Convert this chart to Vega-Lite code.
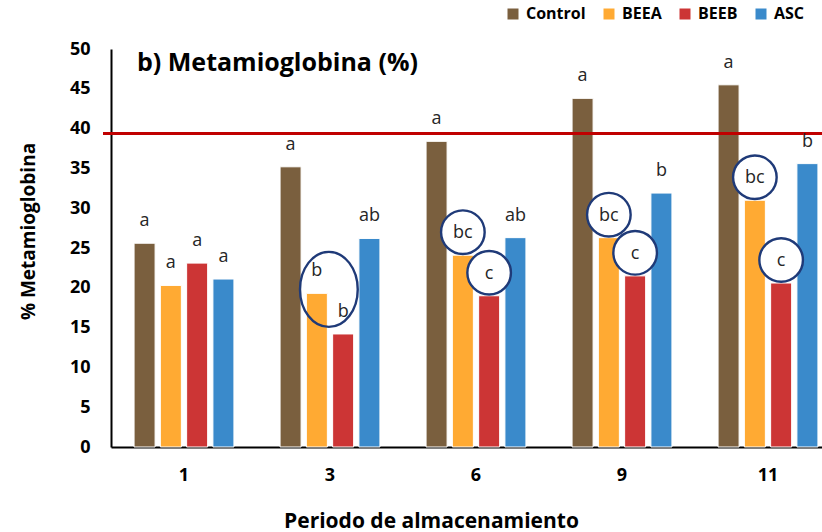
{
  "$schema": "https://vega.github.io/schema/vega-lite/v6.json",
  "autosize": {"type": "none"},
  "width": 711,
  "height": 398,
  "padding": {"left": 111, "top": 49, "right": 0, "bottom": 85},
  "background": "white",
  "title": {
    "text": "b) Metamioglobina (%)",
    "anchor": "start",
    "frame": "group",
    "fontSize": 25,
    "fontWeight": "bold",
    "color": "#000000",
    "baseline": "alphabetic",
    "offset": 0,
    "dx": 26,
    "dy": 90
  },
  "datasets": {
    "medias": [
      {"periodo": "1", "tratamiento": "Control", "valor": 25.6, "letra": "a", "circulo": false},
      {"periodo": "1", "tratamiento": "BEEA", "valor": 20.3, "letra": "a", "circulo": false},
      {"periodo": "1", "tratamiento": "BEEB", "valor": 23.1, "letra": "a", "circulo": false},
      {"periodo": "1", "tratamiento": "ASC", "valor": 21.1, "letra": "a", "circulo": false},
      {"periodo": "3", "tratamiento": "Control", "valor": 35.2, "letra": "a", "circulo": false},
      {"periodo": "3", "tratamiento": "BEEA", "valor": 19.3, "letra": "b", "circulo": false},
      {"periodo": "3", "tratamiento": "BEEB", "valor": 14.2, "letra": "b", "circulo": false},
      {"periodo": "3", "tratamiento": "ASC", "valor": 26.2, "letra": "ab", "circulo": false},
      {"periodo": "6", "tratamiento": "Control", "valor": 38.4, "letra": "a", "circulo": false},
      {"periodo": "6", "tratamiento": "BEEA", "valor": 24.1, "letra": "bc", "circulo": true},
      {"periodo": "6", "tratamiento": "BEEB", "valor": 19.0, "letra": "c", "circulo": true},
      {"periodo": "6", "tratamiento": "ASC", "valor": 26.3, "letra": "ab", "circulo": false},
      {"periodo": "9", "tratamiento": "Control", "valor": 43.8, "letra": "a", "circulo": false},
      {"periodo": "9", "tratamiento": "BEEA", "valor": 26.3, "letra": "bc", "circulo": true},
      {"periodo": "9", "tratamiento": "BEEB", "valor": 21.5, "letra": "c", "circulo": true},
      {"periodo": "9", "tratamiento": "ASC", "valor": 31.9, "letra": "b", "circulo": false},
      {"periodo": "11", "tratamiento": "Control", "valor": 45.5, "letra": "a", "circulo": false},
      {"periodo": "11", "tratamiento": "BEEA", "valor": 31.0, "letra": "bc", "circulo": true},
      {"periodo": "11", "tratamiento": "BEEB", "valor": 20.6, "letra": "c", "circulo": true},
      {"periodo": "11", "tratamiento": "ASC", "valor": 35.6, "letra": "b", "circulo": false}
    ],
    "elipse": [
      {"periodo": "3", "tratamiento": "BEEA", "valor": 19.8}
    ],
    "limite": [
      {"valor": 39.4}
    ]
  },
  "data": {"name": "medias"},
  "encoding": {
    "x": {
      "field": "periodo",
      "type": "ordinal",
      "title": "Periodo de almacenamiento",
      "scale": {"domain": ["1", "3", "6", "9", "11"], "range": [0, 730], "paddingInner": 0.28, "paddingOuter": 0.14},
      "axis": {
        "labelAngle": 0,
        "ticks": false,
        "domainColor": "#000000",
        "domainWidth": 2,
        "labelFontSize": 18,
        "labelFontWeight": "bold",
        "labelColor": "#000000",
        "labelPadding": 19,
        "titleFontSize": 21,
        "titleFontWeight": "bold",
        "titleColor": "#000000",
        "titleX": 320,
        "titleY": 74,
        "titleBaseline": "middle",
        "titleAlign": "center"
      }
    },
    "xOffset": {
      "field": "tratamiento",
      "type": "nominal",
      "scale": {"domain": ["Control", "BEEA", "BEEB", "ASC"], "paddingInner": 0.2, "paddingOuter": 0.1}
    },
    "y": {
      "field": "valor",
      "type": "quantitative",
      "title": "% Metamioglobina",
      "scale": {"domain": [0, 50], "nice": false},
      "axis": {
        "values": [0, 5, 10, 15, 20, 25, 30, 35, 40, 45, 50],
        "labelOverlap": false,
        "grid": false,
        "ticks": false,
        "domainColor": "#000000",
        "domainWidth": 2,
        "labelFontSize": 18,
        "labelFontWeight": "bold",
        "labelColor": "#000000",
        "labelPadding": 21,
        "titleFontSize": 19,
        "titleFontWeight": "bold",
        "titleColor": "#000000",
        "titleX": -83,
        "titleY": 182,
        "titleBaseline": "middle",
        "titleAlign": "center"
      }
    }
  },
  "layer": [
    {
      "mark": {"type": "bar", "stroke": "#ffffff", "strokeWidth": 1},
      "encoding": {
        "color": {
          "field": "tratamiento",
          "type": "nominal",
          "scale": {
            "domain": ["Control", "BEEA", "BEEB", "ASC"],
            "range": ["#7A5F3E", "#FFAA33", "#CC3535", "#3A8ACB"]
          },
          "legend": {
            "title": null,
            "orient": "none",
            "direction": "horizontal",
            "legendX": 394,
            "legendY": -43,
            "symbolType": "square",
            "symbolSize": 121,
            "symbolStrokeWidth": 0,
            "labelFontSize": 16,
            "labelFontWeight": "bold",
            "labelColor": "#000000",
            "labelOffset": 5,
            "columnPadding": 15,
            "padding": 0
          }
        }
      }
    },
    {
      "data": {"name": "limite"},
      "mark": {"type": "rule", "color": "#C00000", "strokeWidth": 3, "x": -8, "x2": "width"},
      "encoding": {
        "x": null,
        "xOffset": null
      }
    },
    {
      "transform": [{"filter": "datum.circulo"}],
      "mark": {
        "type": "point",
        "shape": "M-1,0A1,1 0 1,1 1,0A1,1 0 1,1 -1,0Z",
        "size": 1900,
        "filled": false,
        "fill": "#ffffff",
        "fillOpacity": 1,
        "stroke": "#1F3A78",
        "strokeWidth": 2.4,
        "opacity": 1,
        "yOffset": -23
      },
      "encoding": {}
    },
    {
      "data": {"name": "elipse"},
      "mark": {
        "type": "point",
        "shape": "M-0.45,0A0.77,1 0 1,1 1.09,0A0.77,1 0 1,1 -0.45,0Z",
        "size": 5625,
        "filled": false,
        "stroke": "#1F3A78",
        "strokeWidth": 2.4,
        "opacity": 1
      },
      "encoding": {}
    },
    {
      "mark": {"type": "text", "fontSize": 18, "color": "#262626", "baseline": "middle", "dy": -22},
      "encoding": {
        "text": {"field": "letra"}
      }
    }
  ],
  "config": {
    "font": "Open Sans",
    "view": {"stroke": null}
  }
}
